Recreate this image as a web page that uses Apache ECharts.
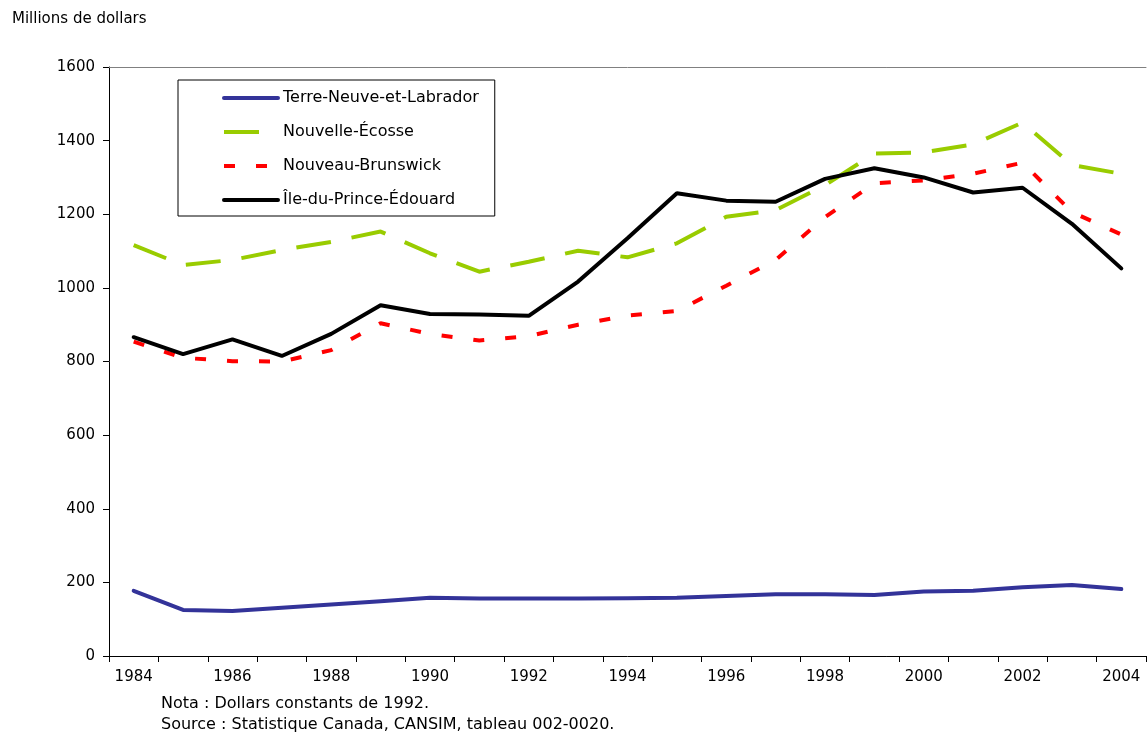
<!DOCTYPE html>
<html>
<head>
<meta charset="utf-8">
<script src="https://cdn.jsdelivr.net/npm/echarts@6/dist/echarts.min.js"></script>
<style>
html,body{margin:0;padding:0;background:#fff;}
#chart{width:1147px;height:734px;}
</style>
</head>
<body>
<div id="chart"></div>
<script>
const years = ['1984','1985','1986','1987','1988','1989','1990','1991','1992','1993','1994','1995','1996','1997','1998','1999','2000','2001','2002','2003','2004'];
const terreNeuve = [177,125,122,131,140,149,158,156,156,156,157,158,163,168,168,166,175,177,187,193,182];
const nouvelleEcosse = [1116,1062,1076,1103,1125,1153,1094,1044,1071,1101,1083,1121,1193,1211,1279,1365,1368,1390,1449,1334,1310];
const nouveauBrunswick = [854,810,801,800,831,904,875,857,869,900,925,937,1006,1076,1192,1284,1292,1310,1340,1206,1145];
const ilePE = [866,820,860,815,875,953,929,928,924,1017,1135,1257,1237,1234,1296,1325,1300,1259,1272,1174,1053];
const seriesNames = ['Terre-Neuve-et-Labrador','Nouvelle-Écosse','Nouveau-Brunswick','Île-du-Prince-Édouard'];
const yTicks = {min:0, max:1600, interval:200};

const FONT = 'DejaVu Sans';
const chart = echarts.init(document.getElementById('chart'), null, {renderer:'canvas'});
chart.setOption({
  backgroundColor:'#ffffff',
  animation:false,
  textStyle:{fontFamily:FONT, color:'#000'},
  title:[
    {text:'Millions de dollars', left:12, top:12, padding:0, textStyle:{fontFamily:FONT, fontSize:15, fontWeight:'normal', color:'#000'}},
    {text:'Nota : Dollars constants de 1992.\nSource : Statistique Canada, CANSIM, tableau 002-0020.', left:161, top:693,
     padding:0,
     textStyle:{fontFamily:FONT, fontSize:16, fontWeight:'normal', color:'#000', lineHeight:21}}
  ],
  grid:{left:109, right:1, top:67, bottom:78, containLabel:false},
  legend:{
    orient:'vertical', left:178, top:80,
    padding:[9,16,7,44], itemGap:16, itemWidth:54, itemHeight:18,
    borderColor:'#000', borderWidth:1, backgroundColor:'#fff',
    itemStyle:{opacity:0},
    lineStyle:{width:4},
    textStyle:{fontFamily:FONT, fontSize:16, color:'#000', lineHeight:18},
    data:seriesNames
  },
  xAxis:[{
    type:'category', data:years, boundaryGap:true,
    axisLine:{show:true, lineStyle:{color:'#000', width:1}},
    axisTick:{show:true, length:6, inside:false, interval:0, lineStyle:{color:'#000'}},
    axisLabel:{interval:1, margin:14, fontFamily:FONT, fontSize:15, color:'#000'},
    splitLine:{show:false}
  },{
    type:'category', data:years, position:'top', boundaryGap:true,
    axisLine:{show:true, lineStyle:{color:'#808080', width:1}},
    axisTick:{show:false}, axisLabel:{show:false}, splitLine:{show:false}
  }],
  yAxis:{
    type:'value', min:yTicks.min, max:yTicks.max, interval:yTicks.interval,
    axisLine:{show:true, lineStyle:{color:'#000', width:1}},
    axisTick:{show:true, length:6, lineStyle:{color:'#000'}},
    axisLabel:{margin:14, fontFamily:FONT, fontSize:15, color:'#000', formatter:function(v){return String(v);}},
    splitLine:{show:false}
  },
  series:[
    {name:seriesNames[0], type:'line', data:terreNeuve, symbol:'none', color:'#333399',
     lineStyle:{color:'#333399', width:4, cap:'round', join:'round'}},
    {name:seriesNames[1], type:'line', data:nouvelleEcosse, symbol:'none', color:'#99CC00',
     lineStyle:{color:'#99CC00', width:4, type:[35,21], cap:'butt'}},
    {name:seriesNames[2], type:'line', data:nouveauBrunswick, symbol:'none', color:'#FF0000',
     lineStyle:{color:'#FF0000', width:4, type:[11,21], cap:'butt'}},
    {name:seriesNames[3], type:'line', data:ilePE, symbol:'none', color:'#000000',
     lineStyle:{color:'#000000', width:4, cap:'round'}}
  ]
});
</script>
</body>
</html>
